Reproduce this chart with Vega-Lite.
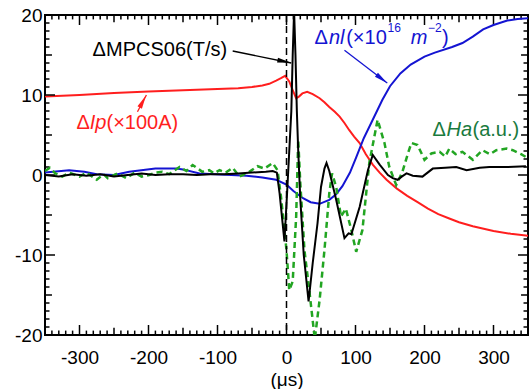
{
  "$schema": "https://vega.github.io/schema/vega-lite/v6.json",
  "width": 483,
  "height": 320,
  "autosize": {"type": "none"},
  "padding": {"left": 45, "top": 15, "right": 3, "bottom": 54},
  "background": "white",
  "config": {
    "view": {"stroke": "black", "strokeWidth": 2},
    "font": "Liberation Sans",
    "axis": {
      "domain": false,
      "ticks": false,
      "labelFont": "Liberation Sans", "labelFontSize": 19, "labelColor": "black",
      "titleFont": "Liberation Sans", "titleFontSize": 19, "titleFontWeight": "normal", "titleColor": "black",
      "grid": false, "labelOverlap": false, "labelFlush": false, "labelBound": false
    }
  },
  "datasets": {
    "curves": [
      {"s": "Ip", "x": -350, "y": 9.8}, {"s": "Ip", "x": -300, "y": 10.0}, {"s": "Ip", "x": -250, "y": 10.25}, {"s": "Ip", "x": -200, "y": 10.45},
      {"s": "Ip", "x": -150, "y": 10.6}, {"s": "Ip", "x": -100, "y": 10.75}, {"s": "Ip", "x": -70, "y": 10.85}, {"s": "Ip", "x": -50, "y": 11.0},
      {"s": "Ip", "x": -35, "y": 11.2}, {"s": "Ip", "x": -25, "y": 11.4}, {"s": "Ip", "x": -15, "y": 11.8}, {"s": "Ip", "x": -8, "y": 12.1},
      {"s": "Ip", "x": -2, "y": 12.4}, {"s": "Ip", "x": 4, "y": 11.7}, {"s": "Ip", "x": 9, "y": 10.6}, {"s": "Ip", "x": 14, "y": 9.6},
      {"s": "Ip", "x": 18, "y": 9.8}, {"s": "Ip", "x": 23, "y": 10.2}, {"s": "Ip", "x": 30, "y": 10.4}, {"s": "Ip", "x": 38, "y": 10.1},
      {"s": "Ip", "x": 48, "y": 9.6}, {"s": "Ip", "x": 55, "y": 9.1}, {"s": "Ip", "x": 62, "y": 8.5}, {"s": "Ip", "x": 70, "y": 7.9},
      {"s": "Ip", "x": 77, "y": 7.3}, {"s": "Ip", "x": 84, "y": 6.5}, {"s": "Ip", "x": 91, "y": 5.6}, {"s": "Ip", "x": 98, "y": 4.8},
      {"s": "Ip", "x": 106, "y": 4.0}, {"s": "Ip", "x": 115, "y": 2.6}, {"s": "Ip", "x": 125, "y": 1.3}, {"s": "Ip", "x": 135, "y": 0.3},
      {"s": "Ip", "x": 145, "y": -0.6}, {"s": "Ip", "x": 160, "y": -1.7}, {"s": "Ip", "x": 175, "y": -2.6}, {"s": "Ip", "x": 190, "y": -3.4},
      {"s": "Ip", "x": 205, "y": -4.2}, {"s": "Ip", "x": 220, "y": -4.9}, {"s": "Ip", "x": 235, "y": -5.4}, {"s": "Ip", "x": 250, "y": -5.9},
      {"s": "Ip", "x": 270, "y": -6.4}, {"s": "Ip", "x": 300, "y": -7.0}, {"s": "Ip", "x": 325, "y": -7.35}, {"s": "Ip", "x": 350, "y": -7.6},

      {"s": "nl", "x": -350, "y": 0.3}, {"s": "nl", "x": -315, "y": 0.6}, {"s": "nl", "x": -293, "y": 0.4}, {"s": "nl", "x": -275, "y": 0.1},
      {"s": "nl", "x": -250, "y": 0.0}, {"s": "nl", "x": -228, "y": 0.4}, {"s": "nl", "x": -190, "y": 0.8}, {"s": "nl", "x": -160, "y": 0.8},
      {"s": "nl", "x": -150, "y": 0.7}, {"s": "nl", "x": -126, "y": 0.2}, {"s": "nl", "x": -80, "y": 0.0}, {"s": "nl", "x": -58, "y": -0.1},
      {"s": "nl", "x": -35, "y": -0.3}, {"s": "nl", "x": -15, "y": -0.6}, {"s": "nl", "x": 0, "y": -1.2}, {"s": "nl", "x": 10, "y": -2.0},
      {"s": "nl", "x": 24, "y": -2.9}, {"s": "nl", "x": 35, "y": -3.4}, {"s": "nl", "x": 48, "y": -3.6}, {"s": "nl", "x": 62, "y": -3.1},
      {"s": "nl", "x": 72, "y": -2.4}, {"s": "nl", "x": 81, "y": -1.4}, {"s": "nl", "x": 92, "y": 0.3}, {"s": "nl", "x": 101, "y": 2.2},
      {"s": "nl", "x": 112, "y": 4.6}, {"s": "nl", "x": 125, "y": 6.9}, {"s": "nl", "x": 139, "y": 9.4}, {"s": "nl", "x": 150, "y": 11.1},
      {"s": "nl", "x": 165, "y": 12.7}, {"s": "nl", "x": 180, "y": 13.8}, {"s": "nl", "x": 200, "y": 14.8}, {"s": "nl", "x": 215, "y": 15.3},
      {"s": "nl", "x": 240, "y": 16.0}, {"s": "nl", "x": 255, "y": 16.5}, {"s": "nl", "x": 270, "y": 17.3}, {"s": "nl", "x": 285, "y": 18.2},
      {"s": "nl", "x": 300, "y": 18.75}, {"s": "nl", "x": 320, "y": 19.3}, {"s": "nl", "x": 335, "y": 19.5}, {"s": "nl", "x": 350, "y": 19.6},

      {"s": "Ha", "x": -350, "y": 0.5}, {"s": "Ha", "x": -343, "y": 0.9}, {"s": "Ha", "x": -335, "y": 0.2}, {"s": "Ha", "x": -325, "y": -0.2},
      {"s": "Ha", "x": -315, "y": 0.3}, {"s": "Ha", "x": -300, "y": -0.2}, {"s": "Ha", "x": -290, "y": 0.3}, {"s": "Ha", "x": -275, "y": -0.6},
      {"s": "Ha", "x": -265, "y": 0.1}, {"s": "Ha", "x": -259, "y": -0.4}, {"s": "Ha", "x": -245, "y": 0.2}, {"s": "Ha", "x": -232, "y": -0.4},
      {"s": "Ha", "x": -220, "y": 0.3}, {"s": "Ha", "x": -210, "y": -0.2}, {"s": "Ha", "x": -199, "y": 0.0}, {"s": "Ha", "x": -190, "y": 0.3},
      {"s": "Ha", "x": -180, "y": 0.4}, {"s": "Ha", "x": -170, "y": 0.1}, {"s": "Ha", "x": -155, "y": 1.0}, {"s": "Ha", "x": -145, "y": 0.5},
      {"s": "Ha", "x": -136, "y": 1.25}, {"s": "Ha", "x": -122, "y": 0.4}, {"s": "Ha", "x": -112, "y": 0.6}, {"s": "Ha", "x": -105, "y": 0.2},
      {"s": "Ha", "x": -97, "y": 0.6}, {"s": "Ha", "x": -88, "y": 0.3}, {"s": "Ha", "x": -78, "y": 0.9}, {"s": "Ha", "x": -68, "y": -0.2},
      {"s": "Ha", "x": -54, "y": 0.4}, {"s": "Ha", "x": -42, "y": 1.1}, {"s": "Ha", "x": -32, "y": 0.8}, {"s": "Ha", "x": -20, "y": 1.5},
      {"s": "Ha", "x": -13, "y": 0.6}, {"s": "Ha", "x": -8, "y": -2.7}, {"s": "Ha", "x": 0, "y": -9.4}, {"s": "Ha", "x": 4, "y": -14.4},
      {"s": "Ha", "x": 9, "y": -13.3}, {"s": "Ha", "x": 14, "y": -5.2}, {"s": "Ha", "x": 17, "y": 4.4}, {"s": "Ha", "x": 20, "y": -1.0},
      {"s": "Ha", "x": 26, "y": -9.4}, {"s": "Ha", "x": 33, "y": -14.4}, {"s": "Ha", "x": 41, "y": -20.5}, {"s": "Ha", "x": 48, "y": -15.6},
      {"s": "Ha", "x": 55, "y": -9.4}, {"s": "Ha", "x": 62, "y": -2.3}, {"s": "Ha", "x": 66, "y": 0.2}, {"s": "Ha", "x": 72, "y": -1.5},
      {"s": "Ha", "x": 79, "y": -5.2}, {"s": "Ha", "x": 86, "y": -4.2}, {"s": "Ha", "x": 94, "y": -6.9}, {"s": "Ha", "x": 101, "y": -9.6},
      {"s": "Ha", "x": 110, "y": -6.9}, {"s": "Ha", "x": 120, "y": 1.5}, {"s": "Ha", "x": 132, "y": 6.9}, {"s": "Ha", "x": 142, "y": 4.0},
      {"s": "Ha", "x": 149, "y": 1.0}, {"s": "Ha", "x": 159, "y": -1.25}, {"s": "Ha", "x": 168, "y": 0.4}, {"s": "Ha", "x": 176, "y": 2.7},
      {"s": "Ha", "x": 181, "y": 4.0}, {"s": "Ha", "x": 190, "y": 3.75}, {"s": "Ha", "x": 200, "y": 1.9}, {"s": "Ha", "x": 210, "y": 2.7},
      {"s": "Ha", "x": 222, "y": 2.9}, {"s": "Ha", "x": 230, "y": 2.3}, {"s": "Ha", "x": 236, "y": 3.3}, {"s": "Ha", "x": 245, "y": 2.6},
      {"s": "Ha", "x": 255, "y": 2.9}, {"s": "Ha", "x": 270, "y": 1.9}, {"s": "Ha", "x": 284, "y": 3.1}, {"s": "Ha", "x": 295, "y": 2.6},
      {"s": "Ha", "x": 304, "y": 3.1}, {"s": "Ha", "x": 319, "y": 3.3}, {"s": "Ha", "x": 328, "y": 3.1}, {"s": "Ha", "x": 340, "y": 2.6},
      {"s": "Ha", "x": 350, "y": 2.1},

      {"s": "MPCS", "x": -350, "y": 0.0}, {"s": "MPCS", "x": -330, "y": -0.2}, {"s": "MPCS", "x": -310, "y": 0.1}, {"s": "MPCS", "x": -290, "y": -0.1},
      {"s": "MPCS", "x": -270, "y": 0.1}, {"s": "MPCS", "x": -250, "y": -0.2}, {"s": "MPCS", "x": -230, "y": 0.0}, {"s": "MPCS", "x": -210, "y": 0.2},
      {"s": "MPCS", "x": -190, "y": 0.0}, {"s": "MPCS", "x": -170, "y": 0.1}, {"s": "MPCS", "x": -150, "y": 0.1}, {"s": "MPCS", "x": -130, "y": 0.0},
      {"s": "MPCS", "x": -110, "y": 0.1}, {"s": "MPCS", "x": -90, "y": 0.1}, {"s": "MPCS", "x": -70, "y": 0.2}, {"s": "MPCS", "x": -50, "y": 0.3},
      {"s": "MPCS", "x": -30, "y": 0.4}, {"s": "MPCS", "x": -20, "y": 0.5}, {"s": "MPCS", "x": -14, "y": 0.3}, {"s": "MPCS", "x": -10, "y": -2.3},
      {"s": "MPCS", "x": -3, "y": -8.3}, {"s": "MPCS", "x": 1, "y": -2.0}, {"s": "MPCS", "x": 4, "y": 3.0}, {"s": "MPCS", "x": 7, "y": 8.0},
      {"s": "MPCS", "x": 9, "y": 15.0}, {"s": "MPCS", "x": 11, "y": 20.5}, {"s": "MPCS", "x": 13, "y": 15.0}, {"s": "MPCS", "x": 15, "y": 8.0},
      {"s": "MPCS", "x": 17, "y": 3.0}, {"s": "MPCS", "x": 20, "y": -3.0}, {"s": "MPCS", "x": 25, "y": -10.0}, {"s": "MPCS", "x": 32, "y": -15.8},
      {"s": "MPCS", "x": 38, "y": -11.0}, {"s": "MPCS", "x": 45, "y": -6.0}, {"s": "MPCS", "x": 50, "y": -1.5}, {"s": "MPCS", "x": 55, "y": 0.8},
      {"s": "MPCS", "x": 58, "y": 1.5}, {"s": "MPCS", "x": 62, "y": 0.5}, {"s": "MPCS", "x": 72, "y": -3.1}, {"s": "MPCS", "x": 84, "y": -7.9},
      {"s": "MPCS", "x": 90, "y": -7.3}, {"s": "MPCS", "x": 94, "y": -7.4}, {"s": "MPCS", "x": 106, "y": -4.0}, {"s": "MPCS", "x": 118, "y": 0.6},
      {"s": "MPCS", "x": 125, "y": 2.5}, {"s": "MPCS", "x": 135, "y": 1.3}, {"s": "MPCS", "x": 147, "y": 0.0}, {"s": "MPCS", "x": 154, "y": -0.4},
      {"s": "MPCS", "x": 161, "y": -0.6}, {"s": "MPCS", "x": 167, "y": -0.2}, {"s": "MPCS", "x": 174, "y": 0.2}, {"s": "MPCS", "x": 183, "y": -0.1},
      {"s": "MPCS", "x": 197, "y": -0.2}, {"s": "MPCS", "x": 212, "y": 0.8}, {"s": "MPCS", "x": 230, "y": 0.9}, {"s": "MPCS", "x": 246, "y": 1.0},
      {"s": "MPCS", "x": 261, "y": 0.6}, {"s": "MPCS", "x": 280, "y": 0.9}, {"s": "MPCS", "x": 294, "y": 1.0}, {"s": "MPCS", "x": 320, "y": 1.0},
      {"s": "MPCS", "x": 347, "y": 1.1}
    ],
    "xticks": [
      {"v": -340, "k": "minor"}, {"v": -330, "k": "minor"}, {"v": -320, "k": "minor"}, {"v": -310, "k": "minor"}, {"v": -300, "k": "major"},
      {"v": -290, "k": "minor"}, {"v": -280, "k": "minor"}, {"v": -270, "k": "minor"}, {"v": -260, "k": "minor"}, {"v": -250, "k": "medium"},
      {"v": -240, "k": "minor"}, {"v": -230, "k": "minor"}, {"v": -220, "k": "minor"}, {"v": -210, "k": "minor"}, {"v": -200, "k": "major"},
      {"v": -190, "k": "minor"}, {"v": -180, "k": "minor"}, {"v": -170, "k": "minor"}, {"v": -160, "k": "minor"}, {"v": -150, "k": "medium"},
      {"v": -140, "k": "minor"}, {"v": -130, "k": "minor"}, {"v": -120, "k": "minor"}, {"v": -110, "k": "minor"}, {"v": -100, "k": "major"},
      {"v": -90, "k": "minor"}, {"v": -80, "k": "minor"}, {"v": -70, "k": "minor"}, {"v": -60, "k": "minor"}, {"v": -50, "k": "medium"},
      {"v": -40, "k": "minor"}, {"v": -30, "k": "minor"}, {"v": -20, "k": "minor"}, {"v": -10, "k": "minor"}, {"v": 0, "k": "major"},
      {"v": 10, "k": "minor"}, {"v": 20, "k": "minor"}, {"v": 30, "k": "minor"}, {"v": 40, "k": "minor"}, {"v": 50, "k": "medium"},
      {"v": 60, "k": "minor"}, {"v": 70, "k": "minor"}, {"v": 80, "k": "minor"}, {"v": 90, "k": "minor"}, {"v": 100, "k": "major"},
      {"v": 110, "k": "minor"}, {"v": 120, "k": "minor"}, {"v": 130, "k": "minor"}, {"v": 140, "k": "minor"}, {"v": 150, "k": "medium"},
      {"v": 160, "k": "minor"}, {"v": 170, "k": "minor"}, {"v": 180, "k": "minor"}, {"v": 190, "k": "minor"}, {"v": 200, "k": "major"},
      {"v": 210, "k": "minor"}, {"v": 220, "k": "minor"}, {"v": 230, "k": "minor"}, {"v": 240, "k": "minor"}, {"v": 250, "k": "medium"},
      {"v": 260, "k": "minor"}, {"v": 270, "k": "minor"}, {"v": 280, "k": "minor"}, {"v": 290, "k": "minor"}, {"v": 300, "k": "major"},
      {"v": 310, "k": "minor"}, {"v": 320, "k": "minor"}, {"v": 330, "k": "minor"}, {"v": 340, "k": "minor"}
    ],
    "yticks": [
      {"v": -19, "k": "minor"}, {"v": -18, "k": "minor"}, {"v": -17, "k": "minor"}, {"v": -16, "k": "minor"}, {"v": -15, "k": "medium"},
      {"v": -14, "k": "minor"}, {"v": -13, "k": "minor"}, {"v": -12, "k": "minor"}, {"v": -11, "k": "minor"}, {"v": -10, "k": "major"},
      {"v": -9, "k": "minor"}, {"v": -8, "k": "minor"}, {"v": -7, "k": "minor"}, {"v": -6, "k": "minor"}, {"v": -5, "k": "medium"},
      {"v": -4, "k": "minor"}, {"v": -3, "k": "minor"}, {"v": -2, "k": "minor"}, {"v": -1, "k": "minor"}, {"v": 0, "k": "major"},
      {"v": 1, "k": "minor"}, {"v": 2, "k": "minor"}, {"v": 3, "k": "minor"}, {"v": 4, "k": "minor"}, {"v": 5, "k": "medium"},
      {"v": 6, "k": "minor"}, {"v": 7, "k": "minor"}, {"v": 8, "k": "minor"}, {"v": 9, "k": "minor"}, {"v": 10, "k": "major"},
      {"v": 11, "k": "minor"}, {"v": 12, "k": "minor"}, {"v": 13, "k": "minor"}, {"v": 14, "k": "minor"}, {"v": 15, "k": "medium"},
      {"v": 16, "k": "minor"}, {"v": 17, "k": "minor"}, {"v": 18, "k": "minor"}, {"v": 19, "k": "minor"}
    ],
    "arrows": [
      {"s": "MPCS", "x": -78, "y": 15.5, "x2": 6.8, "y2": 14.0, "hx": -3.2, "hy": 14.2, "a": 11},
      {"s": "Ip", "x": -216, "y": 7.9, "x2": -203, "y2": 10.0, "hx": -208.1, "hy": 9.2, "a": 298},
      {"s": "nl", "x": 84, "y": 15.6, "x2": 146, "y2": 11.5, "hx": 138.3, "hy": 12.0, "a": 37.5}
    ],
    "labels": [
      {"s": "MPCS", "x": -281, "y": 15.6, "t": "ΔMPCS06(T/s)", "style": "normal"},
      {"s": "Ip", "x": -304.3, "y": 6.5, "t": "Δ", "style": "normal"},
      {"s": "Ip", "x": -285.1, "y": 6.5, "t": "Ip", "style": "italic"},
      {"s": "Ip", "x": -260.9, "y": 6.5, "t": "(×100A)", "style": "normal"},
      {"s": "nl", "x": 40.6, "y": 17.1, "t": "Δ", "style": "normal"},
      {"s": "nl", "x": 61.5, "y": 17.1, "t": "nl", "style": "italic"},
      {"s": "nl", "x": 86.5, "y": 17.1, "t": "(×10", "style": "normal"},
      {"s": "nl", "x": 146.5, "y": 18.4, "t": "16", "style": "sup"},
      {"s": "nl", "x": 180.0, "y": 17.1, "t": "m", "style": "italic"},
      {"s": "nl", "x": 205.0, "y": 18.4, "t": "−2", "style": "sup"},
      {"s": "nl", "x": 225.5, "y": 17.1, "t": ")", "style": "normal"},
      {"s": "HaLabel", "x": 211.6, "y": 5.6, "t": "Δ", "style": "normal"},
      {"s": "HaLabel", "x": 231.9, "y": 5.6, "t": "Ha", "style": "italic"},
      {"s": "HaLabel", "x": 269.6, "y": 5.6, "t": "(a.u.)", "style": "normal"}
    ],
    "zero": [{"x": 0}]
  },
  "layer": [
    {
      "data": {"name": "curves"},
      "transform": [{"filter": "datum.s === 'Ip'"}],
      "mark": {"type": "line", "strokeWidth": 2, "clip": true, "color": "#ff1e1e"},
      "encoding": {
        "x": {"field": "x", "type": "quantitative", "scale": {"domain": [-350, 350], "nice": false, "zero": false},
          "axis": {"orient": "bottom", "title": "(μs)", "titlePadding": 3,
            "values": [-300, -200, -100, 0, 100, 200, 300],
            "labelExpr": "'' + datum.value", "labelPadding": 13}},
        "y": {"field": "y", "type": "quantitative", "scale": {"domain": [-20, 20], "nice": false, "zero": false},
          "axis": {"orient": "left", "title": null,
            "values": [-20, -10, 0, 10, 20],
            "labelExpr": "'' + datum.value", "labelPadding": 3}}
      }
    },
    {
      "data": {"name": "xticks"}, "transform": [{"filter": "datum.k === 'major'"}],
      "mark": {"type": "rule", "color": "black", "strokeWidth": 1.5},
      "encoding": {"x": {"field": "v", "type": "quantitative"}, "y": {"datum": -20}, "y2": {"datum": -18.75}}
    },
    {
      "data": {"name": "xticks"}, "transform": [{"filter": "datum.k === 'medium'"}],
      "mark": {"type": "rule", "color": "black", "strokeWidth": 1.5},
      "encoding": {"x": {"field": "v", "type": "quantitative"}, "y": {"datum": -20}, "y2": {"datum": -19.1}}
    },
    {
      "data": {"name": "xticks"}, "transform": [{"filter": "datum.k === 'minor'"}],
      "mark": {"type": "rule", "color": "black", "strokeWidth": 1.5},
      "encoding": {"x": {"field": "v", "type": "quantitative"}, "y": {"datum": -20}, "y2": {"datum": -19.45}}
    },
    {
      "data": {"name": "xticks"}, "transform": [{"filter": "datum.k === 'major'"}],
      "mark": {"type": "rule", "color": "black", "strokeWidth": 1.5},
      "encoding": {"x": {"field": "v", "type": "quantitative"}, "y": {"datum": 20}, "y2": {"datum": 18.75}}
    },
    {
      "data": {"name": "xticks"}, "transform": [{"filter": "datum.k === 'medium'"}],
      "mark": {"type": "rule", "color": "black", "strokeWidth": 1.5},
      "encoding": {"x": {"field": "v", "type": "quantitative"}, "y": {"datum": 20}, "y2": {"datum": 19.1}}
    },
    {
      "data": {"name": "xticks"}, "transform": [{"filter": "datum.k === 'minor'"}],
      "mark": {"type": "rule", "color": "black", "strokeWidth": 1.5},
      "encoding": {"x": {"field": "v", "type": "quantitative"}, "y": {"datum": 20}, "y2": {"datum": 19.45}}
    },
    {
      "data": {"name": "yticks"}, "transform": [{"filter": "datum.k === 'major'"}],
      "mark": {"type": "rule", "color": "black", "strokeWidth": 1.5},
      "encoding": {"y": {"field": "v", "type": "quantitative"}, "x": {"datum": -350}, "x2": {"datum": -335.5}}
    },
    {
      "data": {"name": "yticks"}, "transform": [{"filter": "datum.k === 'medium'"}],
      "mark": {"type": "rule", "color": "black", "strokeWidth": 1.5},
      "encoding": {"y": {"field": "v", "type": "quantitative"}, "x": {"datum": -350}, "x2": {"datum": -339.9}}
    },
    {
      "data": {"name": "yticks"}, "transform": [{"filter": "datum.k === 'minor'"}],
      "mark": {"type": "rule", "color": "black", "strokeWidth": 1.5},
      "encoding": {"y": {"field": "v", "type": "quantitative"}, "x": {"datum": -350}, "x2": {"datum": -343.5}}
    },
    {
      "data": {"name": "yticks"}, "transform": [{"filter": "datum.k === 'major'"}],
      "mark": {"type": "rule", "color": "black", "strokeWidth": 1.5},
      "encoding": {"y": {"field": "v", "type": "quantitative"}, "x": {"datum": 350}, "x2": {"datum": 335.5}}
    },
    {
      "data": {"name": "yticks"}, "transform": [{"filter": "datum.k === 'medium'"}],
      "mark": {"type": "rule", "color": "black", "strokeWidth": 1.5},
      "encoding": {"y": {"field": "v", "type": "quantitative"}, "x": {"datum": 350}, "x2": {"datum": 339.9}}
    },
    {
      "data": {"name": "yticks"}, "transform": [{"filter": "datum.k === 'minor'"}],
      "mark": {"type": "rule", "color": "black", "strokeWidth": 1.5},
      "encoding": {"y": {"field": "v", "type": "quantitative"}, "x": {"datum": 350}, "x2": {"datum": 343.5}}
    },
    {
      "data": {"name": "curves"},
      "transform": [{"filter": "datum.s === 'nl'"}],
      "mark": {"type": "line", "strokeWidth": 2, "clip": true, "color": "#1414d2"},
      "encoding": {
        "x": {"field": "x", "type": "quantitative"},
        "y": {"field": "y", "type": "quantitative"}
      }
    },
    {
      "data": {"name": "curves"},
      "transform": [{"filter": "datum.s === 'Ha'"}],
      "mark": {"type": "line", "strokeWidth": 2.5, "strokeDash": [6, 4], "clip": true, "color": "#22a522"},
      "encoding": {
        "x": {"field": "x", "type": "quantitative"},
        "y": {"field": "y", "type": "quantitative"}
      }
    },
    {
      "data": {"name": "curves"},
      "transform": [{"filter": "datum.s === 'MPCS'"}],
      "mark": {"type": "line", "strokeWidth": 2, "clip": true, "color": "black"},
      "encoding": {
        "x": {"field": "x", "type": "quantitative"},
        "y": {"field": "y", "type": "quantitative"}
      }
    },
    {
      "data": {"name": "zero"},
      "mark": {"type": "rule", "color": "black", "strokeWidth": 1.5, "strokeDash": [7, 4]},
      "encoding": {
        "x": {"field": "x", "type": "quantitative"}
      }
    },
    {
      "data": {"name": "arrows"},
      "mark": {"type": "rule", "strokeWidth": 1.3},
      "encoding": {
        "x": {"field": "x", "type": "quantitative"},
        "y": {"field": "y", "type": "quantitative"},
        "x2": {"field": "x2"},
        "y2": {"field": "y2"},
        "color": {"field": "s", "type": "nominal", "legend": null,
          "scale": {"domain": ["Ip", "nl", "MPCS", "Ha", "HaLabel"], "range": ["#ff1e1e", "#1414d2", "black", "#22a522", "#1a7a3e"]}}
      }
    },
    {
      "data": {"name": "arrows"},
      "mark": {"type": "point", "shape": "M-1,-0.36L1,0L-1,0.36Z", "filled": true, "opacity": 1, "size": 190},
      "encoding": {
        "x": {"field": "hx", "type": "quantitative"},
        "y": {"field": "hy", "type": "quantitative"},
        "angle": {"field": "a", "type": "quantitative", "scale": null},
        "color": {"field": "s", "type": "nominal", "legend": null}
      }
    },
    {
      "data": {"name": "labels"},
      "transform": [{"filter": "datum.style === 'normal'"}],
      "mark": {"type": "text", "align": "left", "baseline": "middle", "font": "Liberation Sans", "fontSize": 20},
      "encoding": {
        "x": {"field": "x", "type": "quantitative"},
        "y": {"field": "y", "type": "quantitative"},
        "text": {"field": "t"},
        "color": {"field": "s", "type": "nominal", "legend": null}
      }
    },
    {
      "data": {"name": "labels"},
      "transform": [{"filter": "datum.style === 'italic'"}],
      "mark": {"type": "text", "align": "left", "baseline": "middle", "font": "Liberation Sans", "fontSize": 20, "fontStyle": "italic"},
      "encoding": {
        "x": {"field": "x", "type": "quantitative"},
        "y": {"field": "y", "type": "quantitative"},
        "text": {"field": "t"},
        "color": {"field": "s", "type": "nominal", "legend": null}
      }
    },
    {
      "data": {"name": "labels"},
      "transform": [{"filter": "datum.style === 'sup'"}],
      "mark": {"type": "text", "align": "left", "baseline": "middle", "font": "Liberation Sans", "fontSize": 12},
      "encoding": {
        "x": {"field": "x", "type": "quantitative"},
        "y": {"field": "y", "type": "quantitative"},
        "text": {"field": "t"},
        "color": {"field": "s", "type": "nominal", "legend": null}
      }
    }
  ]
}
